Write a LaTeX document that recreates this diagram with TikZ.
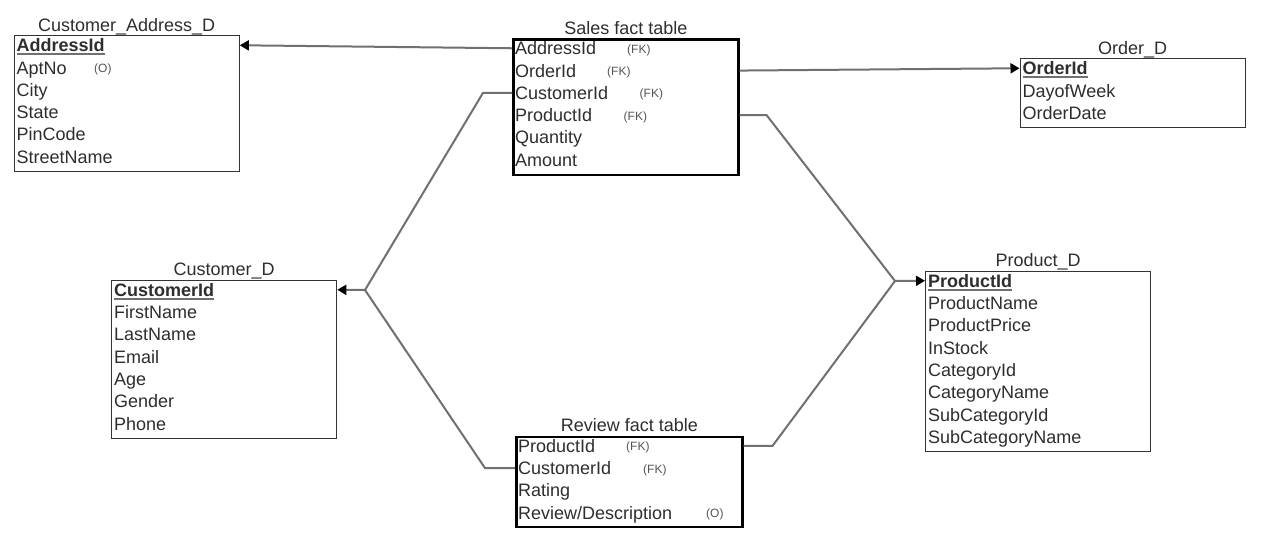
\documentclass[tikz,border=0pt]{standalone}
\usepackage{fontspec}
\setmainfont{Liberation Sans}
\usetikzlibrary{arrows.meta}
\definecolor{boxc}{HTML}{333333}
\definecolor{txtc}{HTML}{2E2E2E}
\definecolor{notec}{HTML}{555555}
\definecolor{linec}{HTML}{707070}
\definecolor{ulc}{HTML}{707070}
\tikzset{
  tbl/.style={draw=boxc, line width=1.3pt, minimum width=225pt, anchor=north west, inner sep=0pt, fill=white},
  facttbl/.style={tbl, draw=black, line width=2.6pt},
  ttl/.style={anchor=base, font=\fontsize{18}{20}\selectfont, text=txtc, inner sep=0pt},
  fld/.style={anchor=base west, font=\fontsize{18}{20}\selectfont, text=txtc, inner sep=0pt},
  key/.style={fld, font=\fontsize{18}{20}\selectfont\bfseries},
  note/.style={anchor=base west, font=\fontsize{12}{14}\selectfont, text=notec, inner sep=0pt},
  ul/.style={draw=ulc, line width=2pt},
  link/.style={draw=linec, line width=2pt},
  arr/.style={link, -{Triangle[length=9pt,width=10pt,color=black]}}
}
\begin{document}
\begin{tikzpicture}[x=1pt,y=-1pt]
\useasboundingbox[fill=white] (0,0) rectangle (1267,549);

% ---------- Customer_Address_D ----------
\node[tbl, minimum height=135.8pt] (addr) at (13.5,35) {};
\node[ttl] (addrT) at (addr.north |- 0,31) {Customer\_Address\_D};
\node[key] (a1) at (16.5,51.7) {AddressId};
\node[fld] (a2) at (16.5,74) {AptNo};
\node[note] (a2n) at (94,72.5) {(O)};
\node[fld] (a3) at (16.5,96.3) {City};
\node[fld] (a4) at (16.5,118.6) {State};
\node[fld] (a5) at (16.5,140.9) {PinCode};
\node[fld] (a6) at (16.5,163.2) {StreetName};
\draw[ul] ([yshift=-2.5pt]a1.base west) -- ([yshift=-2.5pt]a1.base east);

% ---------- Sales fact table ----------
\node[facttbl, minimum height=135.8pt] (sales) at (512,38) {};
\node[ttl] (salesT) at (sales.north |- 0,34) {Sales fact table};
\node[fld] (s1) at (515,54.7) {AddressId};
\node[note] (s1n) at (627,53.2) {(FK)};
\node[fld] (s2) at (515,77) {OrderId};
\node[note] (s2n) at (607,75.5) {(FK)};
\node[fld] (s3) at (515,99.3) {CustomerId};
\node[note] (s3n) at (639.5,97.8) {(FK)};
\node[fld] (s4) at (515,121.6) {ProductId};
\node[note] (s4n) at (623.5,120.1) {(FK)};
\node[fld] (s5) at (515,143.9) {Quantity};
\node[fld] (s6) at (515,166.2) {Amount};

% ---------- Order_D ----------
\node[tbl, minimum height=68.9pt] (order) at (1019.5,58) {};
\node[ttl] (orderT) at (order.north |- 0,54.5) {Order\_D};
\node[key] (o1) at (1022.5,74.7) {OrderId};
\node[fld] (o2) at (1022.5,97) {DayofWeek};
\node[fld] (o3) at (1022.5,119.3) {OrderDate};
\draw[ul] ([yshift=-2.5pt]o1.base west) -- ([yshift=-2.5pt]o1.base east);

% ---------- Customer_D ----------
\node[tbl, minimum height=158.1pt] (cust) at (111,279.5) {};
\node[ttl] (custT) at (cust.north |- 0,275.5) {Customer\_D};
\node[key] (c1) at (114,296.2) {CustomerId};
\node[fld] (c2) at (114,318.5) {FirstName};
\node[fld] (c3) at (114,340.8) {LastName};
\node[fld] (c4) at (114,363.1) {Email};
\node[fld] (c5) at (114,385.4) {Age};
\node[fld] (c6) at (114,407.7) {Gender};
\node[fld] (c7) at (114,430) {Phone};
\draw[ul] ([yshift=-2.5pt]c1.base west) -- ([yshift=-2.5pt]c1.base east);

% ---------- Product_D ----------
\node[tbl, minimum height=180.4pt] (prod) at (925,270.5) {};
\node[ttl] (prodT) at (prod.north |- 0,266.5) {Product\_D};
\node[key] (p1) at (928,287.2) {ProductId};
\node[fld] (p2) at (928,309.5) {ProductName};
\node[fld] (p3) at (928,331.8) {ProductPrice};
\node[fld] (p4) at (928,354.1) {InStock};
\node[fld] (p5) at (928,376.4) {CategoryId};
\node[fld] (p6) at (928,398.7) {CategoryName};
\node[fld] (p7) at (928,421) {SubCategoryId};
\node[fld] (p8) at (928,443.3) {SubCategoryName};
\draw[ul] ([yshift=-2.5pt]p1.base west) -- ([yshift=-2.5pt]p1.base east);

% ---------- Review fact table ----------
\node[facttbl, minimum width=226pt, minimum height=90.2pt] (review) at (515,435.5) {};
\node[ttl] (reviewT) at (review.north |- 0,431.5) {Review fact table};
\node[fld] (r1) at (518,452.2) {ProductId};
\node[note] (r1n) at (626,450.7) {(FK)};
\node[fld] (r2) at (518,474.5) {CustomerId};
\node[note] (r2n) at (643,473) {(FK)};
\node[fld] (r3) at (518,496.8) {Rating};
\node[fld] (r4) at (518,519.1) {Review/Description};
\node[note] (r4n) at (706,517.6) {(O)};

% ---------- connectors ----------
\coordinate (cj) at (365,290);
\coordinate (pj) at (895,281);
\draw[arr] (sales.west |- s1) -- (addr.east |- a1);
\draw[arr] (sales.east |- s2) -- (order.west |- o1);
\draw[link] (sales.west |- s3) -- ++(-29,0) -- (cj);
\draw[link] (review.west |- r2) -- ++(-30,0) -- (cj);
\draw[arr] (cj) -- (cust.east |- c1);
\draw[link] (sales.east |- s4) -- ++(27,0) -- (pj);
\draw[link] (review.east |- r1) -- ++(29,0) -- (pj);
\draw[arr] (pj) -- (prod.west |- p1);
\end{tikzpicture}
\end{document}
